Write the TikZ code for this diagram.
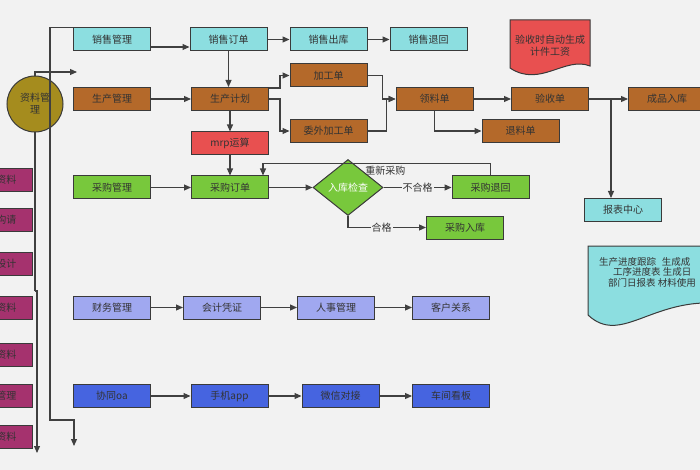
\documentclass[tikz,border=0pt]{standalone}
\usepackage{fontspec}
\setmainfont{Noto Sans CJK SC}
\usetikzlibrary{shapes.geometric,arrows.meta}

\definecolor{bggray}{HTML}{F2F2F2}
\definecolor{boxline}{HTML}{3A3A3A}
\definecolor{linegray}{HTML}{404040}
\definecolor{txtgray}{HTML}{333333}
\definecolor{salecyan}{HTML}{8CDEE0}
\definecolor{prodbrown}{HTML}{B4692A}
\definecolor{mrpred}{HTML}{E85050}
\definecolor{buygreen}{HTML}{78C83C}
\definecolor{finlav}{HTML}{A0A8F0}
\definecolor{coopblue}{HTML}{4664E0}
\definecolor{datamag}{HTML}{A5326E}
\definecolor{dataolive}{HTML}{A58C1E}

\begin{document}
\begin{tikzpicture}[
    x=1pt, y=-1pt,
    box/.style={draw=boxline, line width=1pt, minimum width=77pt,
                minimum height=23pt, inner sep=2pt, text=txtgray,
                font=\fontsize{10}{12}\selectfont},
    sale/.style={box, fill=salecyan},
    prod/.style={box, fill=prodbrown},
    buy/.style={box, fill=buygreen},
    fin/.style={box, fill=finlav},
    coop/.style={box, fill=coopblue},
    mbox/.style={box, fill=datamag, anchor=east, text width=50pt,
                 align=right, inner xsep=16pt},
    flow/.style={draw=linegray, line width=1.1pt,
                 -{Triangle[length=7pt,width=6pt]}},
    lbl/.style={fill=bggray, inner sep=1pt, text=txtgray,
                font=\fontsize{10}{12}\selectfont}
]

% ---------- canvas ----------
\fill[bggray] (0,0) rectangle (700,470);
\useasboundingbox (0,0) rectangle (700,470);

% ---------- data side ----------
\foreach \yy/\tx [count=\i] in {180/资料,219.5/构请,263.5/设计,308/资料,
                                355/资料,395.5/管理,436.5/资料}
  \node[mbox] (m\i) at (33,\yy) {\tx};

\coordinate (djog) at (35,291);
\coordinate (dout) at (77,72);
\coordinate (dend) at (37,453);
\draw[flow] (djog) |- (dout);
\draw[flow] (djog) -- ++(2,0) -- (dend);

\node[circle, draw=boxline, line width=1pt, fill=dataolive,
      minimum size=56pt, inner sep=0pt, align=center, text=txtgray,
      font=\fontsize{10}{12}\selectfont] (data) at (35,104) {资料管\\理};

% ---------- sales ----------
\node[sale] (sm)   at (112,39.5)   {销售管理};
\node[sale] (so)   at (228.5,39.5) {销售订单};
\node[sale] (sout) at (328.5,39.5) {销售出库};
\node[sale] (sret) at (428.5,39.5) {销售退回};

% ---------- production ----------
\node[prod] (pm) at (112,99)   {生产管理};
\node[prod] (pp) at (230,99)   {生产计划};
\node[prod] (jg) at (328.5,75.5) {加工单};
\node[prod] (wj) at (328.5,131) {委外加工单};
\node[prod] (ll) at (434.5,99) {领料单};
\node[prod] (ys) at (550,99)   {验收单};
\node[prod] (cp) at (667,99)   {成品入库};
\node[prod] (tl) at (520.5,131) {退料单};
\node[box, fill=mrpred] (mrp) at (230,143.5) {mrp运算};
\node[sale] (rpt) at (623,210) {报表中心};

% ---------- purchase ----------
\node[buy] (cg)  at (112,187.5)   {采购管理};
\node[buy] (cd)  at (230,187.5)   {采购订单};
\node[diamond, draw=boxline, line width=1pt, fill=buygreen, inner sep=0pt,
      minimum width=70pt, minimum height=56pt, text=white,
      font=\fontsize{10}{12}\selectfont] (chk) at (348,187.5) {入库检查};
\node[buy] (cr)  at (490.5,187.5) {采购退回};
\node[buy] (cin) at (465,227.5)   {采购入库};

% ---------- finance / oa ----------
\node[fin] (cw) at (112,307.5) {财务管理};
\node[fin] (kj) at (222,307.5) {会计凭证};
\node[fin] (rs) at (336,307.5) {人事管理};
\node[fin] (kh) at (451,307.5) {客户关系};
\node[coop] (oa)  at (112,396)   {协同oa};
\node[coop] (app) at (229.5,396) {手机app};
\node[coop] (wx)  at (340.5,396) {微信对接};
\node[coop] (kb)  at (451,396)   {车间看板};

% ---------- notes ----------
\filldraw[fill=mrpred, draw=boxline, line width=1pt]
  (510,20) -- (590,20) -- (590,66) .. controls (565,56) and (540,88) .. (510,68) -- cycle;
\node[align=center, text=txtgray, inner sep=0pt,
      font=\fontsize{10}{12}\selectfont] (paynote) at (550,45.5) {验收时自动生成\\计件工资};
\filldraw[fill=salecyan, draw=boxline, line width=1pt]
  (588,246) -- (715,246) -- (715,303) .. controls (650,300) and (620,345) .. (588,315) -- cycle;
\node[anchor=north west, align=left, text=txtgray, inner sep=0pt,
      font=\fontsize{9.5}{10.5}\selectfont] (rptnote) at (599,257)
  {生产进度跟踪\hspace{0.6em}生成成\\\hspace*{14pt}工序进度表 生成日\\\hspace*{9pt}部门日报表 材料使用};

% ---------- links ----------
\draw[flow] (sm.north west) -| (50,420) -| (74,446);
\draw[flow] ([yshift=-7.5pt]sm.east) -- ([yshift=-7.5pt]so.west);
\draw[flow] (so) -- (sout);
\draw[flow] (sout) -- (sret);
\draw[flow] (so.south) -- (so.south |- pp.north);
\draw[flow] (pm) -- (pp);
\draw[flow] ([yshift=11pt]pp.east) -- ++(11,0) |- (jg.west);
\draw[flow] (pp.east) -- ++(11,0) |- (wj.west);
\draw[flow] (jg.east) -- ++(15,0) |- (ll.west);
\draw[flow] (wj.east) -- ++(19,0) |- (ll.west);
\draw[flow] (ll) -- (ys);
\draw[flow] (ys) -- (cp);
\draw[flow] (ll.south) |- (tl.west);
\draw[flow] ([xshift=-12pt]rpt.north |- ys.east) -- ([xshift=-12pt]rpt.north);
\draw[flow] (pp) -- (mrp);
\draw[flow] (mrp) -- (cd);
\draw[flow] (cg) -- (cd);
\draw[flow] (cd) -- (chk);
\draw[flow] (chk) -- node[lbl] {不合格} (cr);
\draw[flow] (chk.south) |- node[lbl, pos=0.715] {合格} (cin.west);
\draw[flow] (cr.north) -- ++(0,-12)
  -| node[pos=0.231, below, inner sep=2pt, text=txtgray,
          font=\fontsize{10}{12}\selectfont] {重新采购} ([xshift=33pt]cd.north);
\draw[flow] (cw) -- (kj);
\draw[flow] (kj) -- (rs);
\draw[flow] (rs) -- (kh);
\draw[flow] (oa) -- (app);
\draw[flow] (app) -- (wx);
\draw[flow] (wx) -- (kb);

\end{tikzpicture}
\end{document}
